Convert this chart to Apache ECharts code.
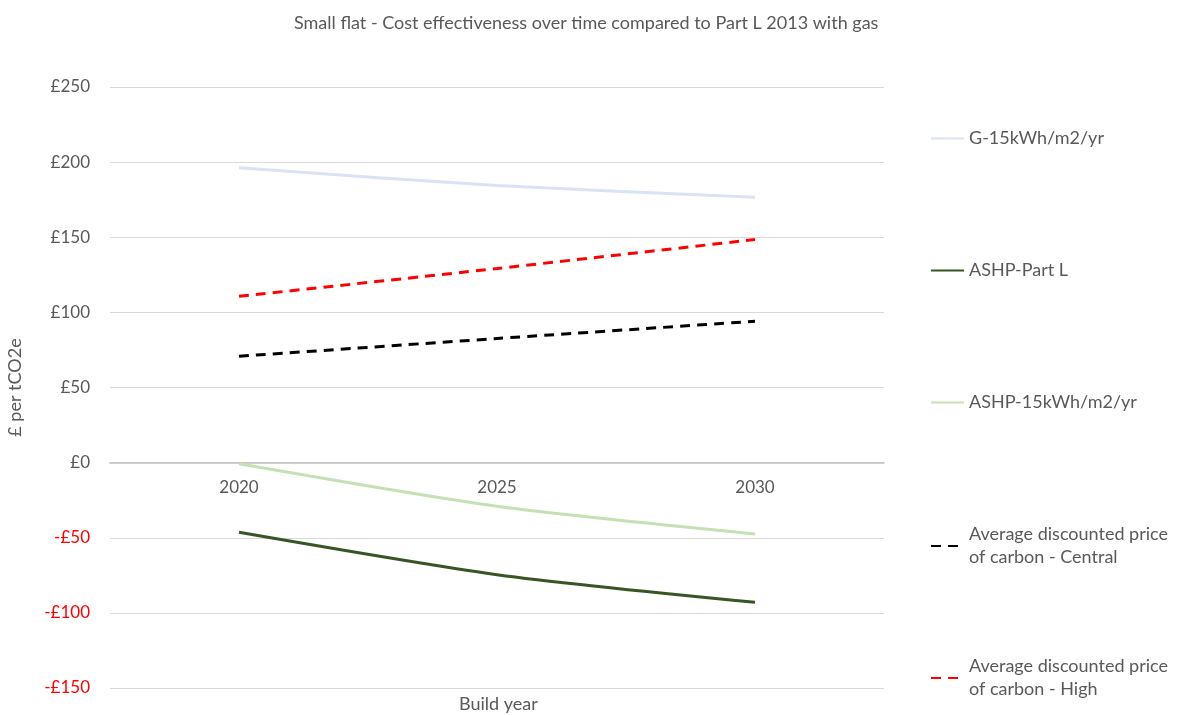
<!DOCTYPE html>
<html>
<head>
<meta charset="utf-8">
<script src="https://cdn.jsdelivr.net/npm/echarts@6/dist/echarts.min.js"></script>
<style>html,body{margin:0;padding:0;background:#fff;overflow:hidden;}#c{width:1182px;height:715px;}</style>
</head>
<body>
<div id="c"></div>
<script>
var categories = ['2020', '2025', '2030'];
var g15 = [196.2, 184.4, 176.6];
var ashpPartL = [-46.4, -74.6, -93.0];
var ashp15 = [-0.8, -29.1, -47.5];
var carbonCentral = [70.8, 82.6, 94.1];
var carbonHigh = [110.7, 129.2, 148.5];

var seriesNames = ['G-15kWh/m2/yr', 'ASHP-Part L', 'ASHP-15kWh/m2/yr',
  'Average discounted price\nof carbon - Central', 'Average discounted price\nof carbon - High'];
var legendTops = [122, 254, 386, 518, 650];

var FONT = 'Lato, "Open Sans", sans-serif';
var chart = echarts.init(document.getElementById('c'));

function mkSeries(name, data, color, dashed) {
  return {
    name: name, type: 'line', data: data, symbol: 'none', showSymbol: false, smooth: 0.25,
    lineStyle: { color: color, width: 3, type: dashed ? [10, 7] : 'solid', cap: 'butt' },
    itemStyle: { color: color }
  };
}

var legends = seriesNames.map(function (n, i) {
  return {
    data: [n], left: 925, top: legendTops[i], orient: 'vertical',
    itemWidth: 33, itemHeight: 14, itemGap: 4,
    itemStyle: { opacity: 0 },
    textStyle: { color: '#595959', fontSize: 18, fontFamily: FONT, lineHeight: 23 }
  };
});

chart.setOption({
  animation: false,
  textStyle: { fontFamily: FONT },
  title: [
    { text: 'Small flat - Cost effectiveness over time compared to Part L 2013 with gas',
      left: 289, top: 9, textStyle: { color: '#595959', fontSize: 18, fontWeight: 'normal', fontFamily: FONT } },
    { text: 'Build year', left: 454, top: 690,
      textStyle: { color: '#595959', fontSize: 18, fontWeight: 'normal', fontFamily: FONT } }
  ],
  legend: legends,
  grid: { left: 110, right: 298, top: 87, bottom: 27, containLabel: false, outerBoundsMode: 'none' },
  xAxis: {
    type: 'category', data: categories, boundaryGap: true,
    position: 'bottom', offset: -225,
    axisLine: { onZero: false, lineStyle: { color: '#bfbfbf', width: 1.5 } },
    axisTick: { show: false },
    axisLabel: { color: '#595959', fontSize: 17, margin: 16, fontFamily: FONT }
  },
  yAxis: {
    type: 'value', min: -150, max: 250, interval: 50,
    name: '£ per tCO2e', nameLocation: 'middle', nameGap: 86, nameRotate: 90,
    nameTextStyle: { color: '#595959', fontSize: 18, fontFamily: FONT },
    axisLine: { show: false }, axisTick: { show: false },
    splitLine: { lineStyle: { color: '#d9d9d9', width: 1 } },
    axisLabel: {
      fontSize: 17, margin: 20, fontFamily: FONT,
      formatter: function (v) { return v < 0 ? '-£' + Math.abs(v) : '£' + v; },
      color: function (v) { return Number(v) < 0 ? '#ff0000' : '#595959'; }
    }
  },
  series: [
    mkSeries(seriesNames[0], g15, '#dae3f3', false),
    mkSeries(seriesNames[1], ashpPartL, '#375623', false),
    mkSeries(seriesNames[2], ashp15, '#c5e0b4', false),
    mkSeries(seriesNames[3], carbonCentral, '#000000', true),
    mkSeries(seriesNames[4], carbonHigh, '#ff0000', true)
  ]
});
</script>
</body>
</html>
